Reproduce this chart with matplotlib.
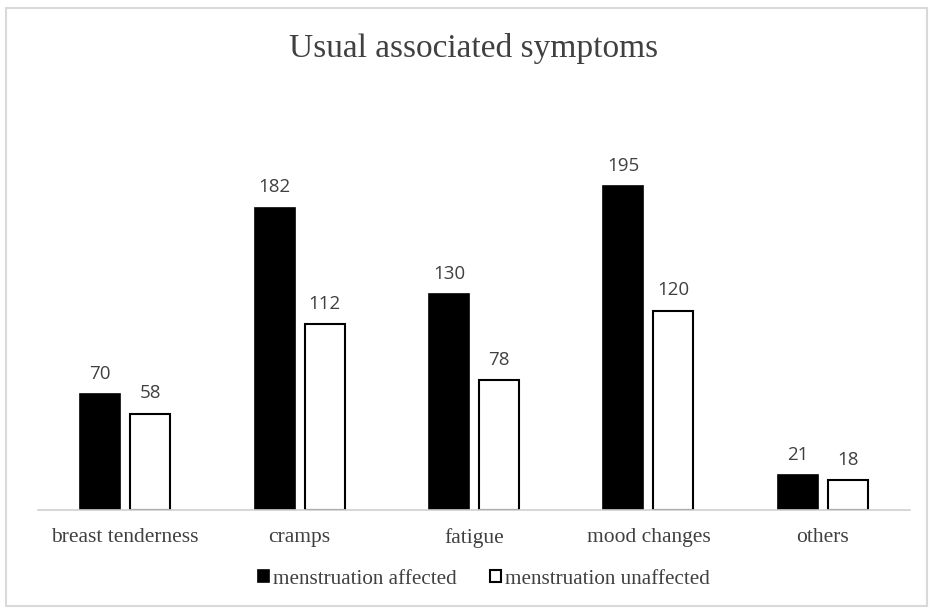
import matplotlib
matplotlib.use("Agg")
import matplotlib.pyplot as plt
from matplotlib.patches import Rectangle
import numpy as np

categories = ["breast tenderness", "cramps", "fatigue", "mood changes", "others"]
affected = [70, 182, 130, 195, 21]
unaffected = [58, 112, 78, 120, 18]
series_names = ["menstruation affected", "menstruation unaffected"]

fig = plt.figure(figsize=(9.33, 6.1), dpi=100)
ax = fig.add_axes([38/933, 1-510/610, 872/933, 380/610])

x = np.arange(len(categories))
w = 0.229
off = 0.143
b1 = ax.bar(x - off, affected, w, color="black", edgecolor="black", linewidth=1.2, label=series_names[0])
b2 = ax.bar(x + off, unaffected, w, color="white", edgecolor="black", linewidth=1.5, label=series_names[1])

for bars, vals in ((b1, affected), (b2, unaffected)):
    for r, v in zip(bars, vals):
        ax.annotate(str(v), (r.get_x() + r.get_width()/2, r.get_height()),
                    xytext=(0, 8), textcoords="offset points", ha="center", va="bottom",
                    fontsize=13.5, family="Open Sans", color="#404040")

ax.set_xlim(-0.5, 4.5)
ax.set_ylim(0, 380/1.662)
for s in ["top", "right", "left"]:
    ax.spines[s].set_visible(False)
ax.spines["bottom"].set_color("#d0d0d0")
ax.spines["bottom"].set_linewidth(1.2)
ax.set_yticks([])
ax.set_xticks(x)
ax.set_xticklabels(categories, family="Liberation Serif", fontsize=15.5, color="#404040")
ax.tick_params(axis="x", length=0, pad=13)

fig.text(474/933, 1-48/610, "Usual associated symptoms", ha="center", va="center",
         family="Liberation Serif", fontsize=24, color="#404040")

leg = fig.legend(handles=[b1, b2], labels=series_names, loc="center", bbox_to_anchor=(484/933, 1-579/610),
                 ncol=2, frameon=False, prop={"family": "Liberation Serif", "size": 15.2},
                 handlelength=0.5, handleheight=0.5, handletextpad=0.2, columnspacing=1.6)
for t in leg.get_texts():
    t.set_color("#404040")

fig.patches.append(Rectangle((6/933, 4/610), 921/933, 598/610, transform=fig.transFigure,
                             fill=False, edgecolor="#d9d9d9", linewidth=1.5))

fig.savefig("out.png", dpi=100, facecolor="white")
